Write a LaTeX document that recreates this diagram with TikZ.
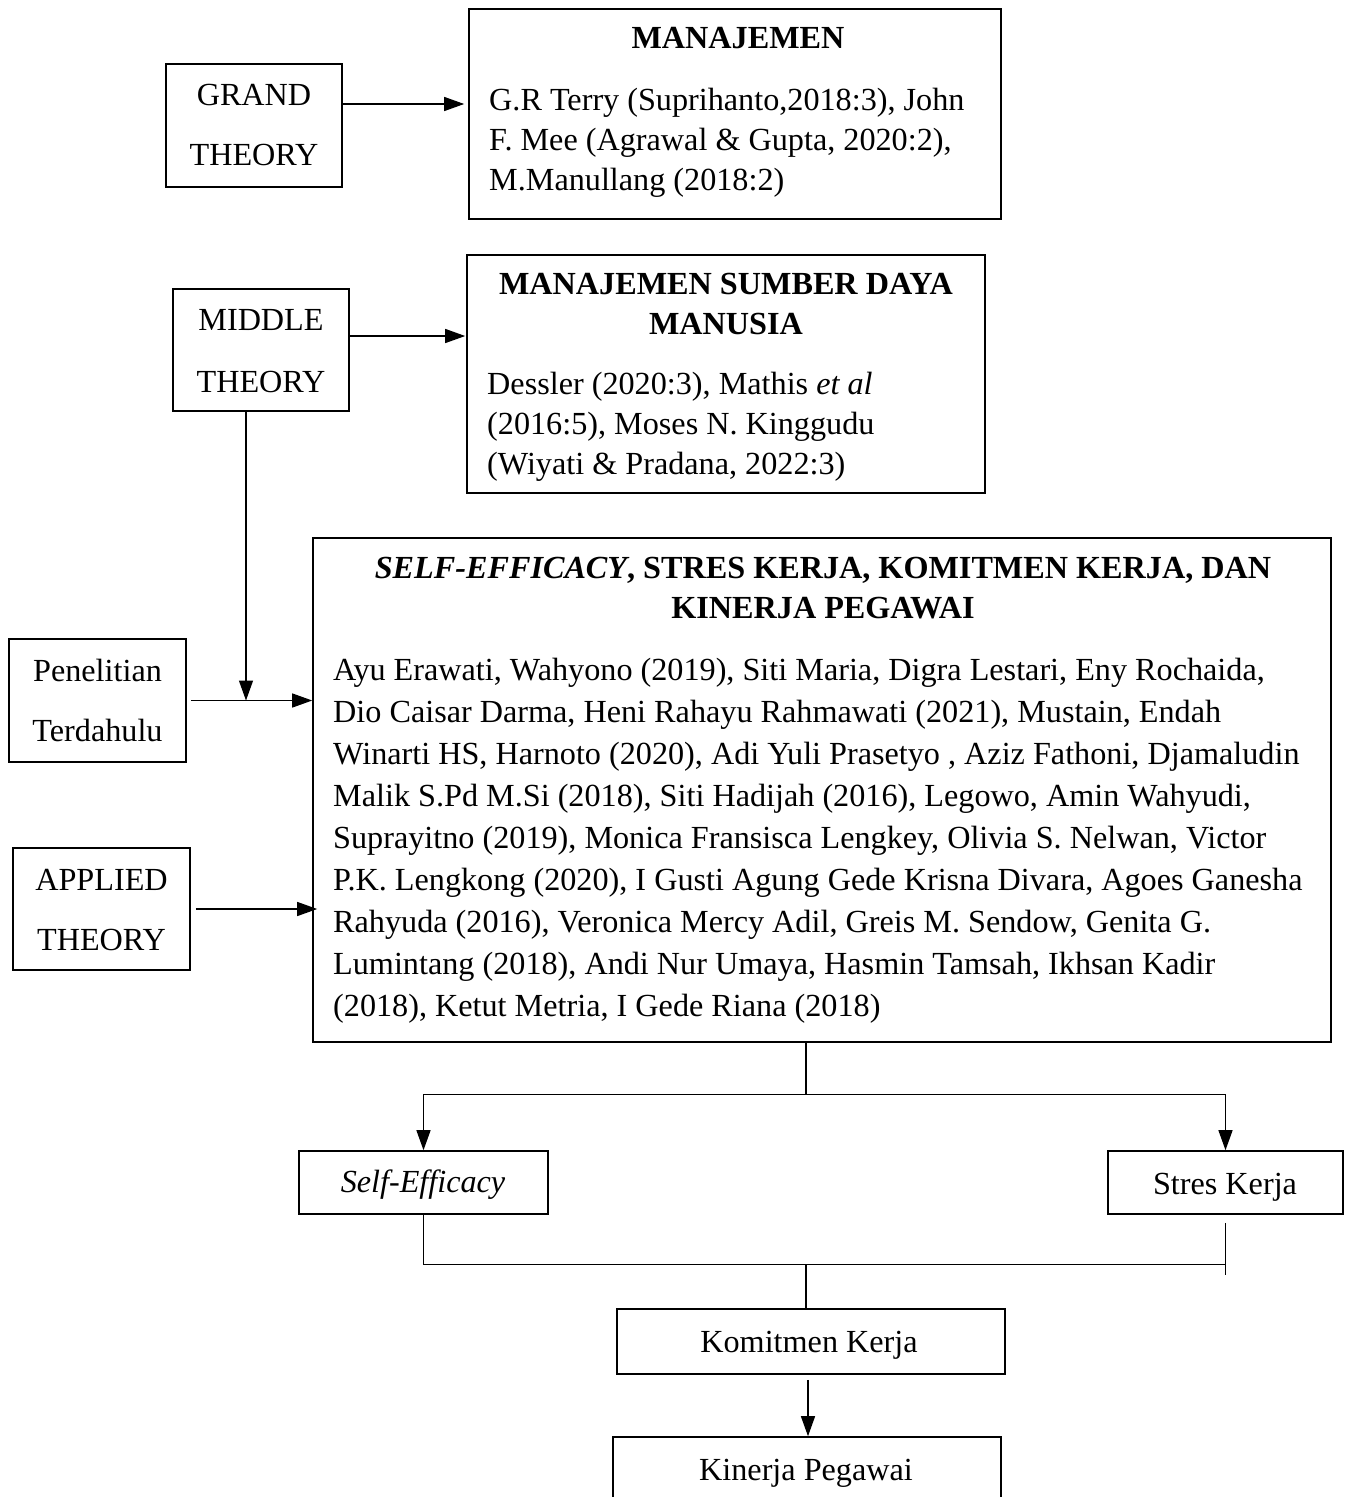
\documentclass[tikz,border=0pt]{standalone}
\usepackage{fontspec}
\setmainfont{Liberation Serif}
\usetikzlibrary{arrows.meta}
\begin{document}
\begin{tikzpicture}[x=1pt,y=-1pt,
  box/.style={draw, line width=1.6pt, inner sep=0pt},
  conn/.style={line width=1.3pt},
  arr/.style={conn, -{Triangle[length=20pt,width=14pt]}},
  txt/.style={inner sep=0pt, font=\fontsize{32.2}{40}\selectfont},
  two/.style={inner sep=0pt, align=center, anchor=base, font=\fontsize{32.2}{60}\selectfont},
  one/.style={inner sep=0pt, anchor=base, font=\fontsize{32.2}{40}\selectfont}]
\useasboundingbox[fill=white] (0,0) rectangle (1348,1497);

% boxes
\node[box, minimum width=176pt, minimum height=123pt] (grand) at (254,125.5) {};
\node[box, minimum width=532pt, minimum height=210pt] (manaj) at (735,114) {};
\node[box, minimum width=176pt, minimum height=122pt] (middle) at (261,350) {};
\node[box, minimum width=518pt, minimum height=238pt] (msdm) at (726,374) {};
\node[box, minimum width=177pt, minimum height=123pt] (pen) at (97.5,700.5) {};
\node[box, minimum width=177pt, minimum height=122pt] (applied) at (101.5,909) {};
\node[box, minimum width=1018pt, minimum height=504pt] (big) at (822,790) {};
\node[box, minimum width=249pt, minimum height=63pt] (self) at (423.5,1182.5) {};
\node[box, minimum width=235pt, minimum height=63pt] (stres) at (1225.5,1182.5) {};
\node[box, minimum width=388pt, minimum height=65pt] (komit) at (811,1341.5) {};
\node[box, minimum width=388pt, minimum height=83pt] (kinerja) at (807,1478.5) {};

% texts (base anchor = baseline of last line)
\node[two] (tgrand) at (254,165) {GRAND\\THEORY};
\node[two, font=\fontsize{32.2}{62}\selectfont] (tmiddle) at (261,392) {MIDDLE\\THEORY};
\node[two] (tpen) at (97.5,741) {Penelitian\\Terdahulu};
\node[two] (tapplied) at (101.5,950) {APPLIED\\THEORY};

\node[txt, anchor=base, font=\fontsize{32.2}{40}\selectfont\bfseries] (hmanaj) at (738,48) {MANAJEMEN};
\node[txt, anchor=base west, align=left] (bmanaj) at (489,190) {G.R Terry (Suprihanto,2018:3), John\\F. Mee (Agrawal \& Gupta, 2020:2),\\M.Manullang (2018:2)};

\node[txt, anchor=base, align=center, font=\fontsize{32.2}{40}\selectfont\bfseries] (hmsdm) at (726,334) {MANAJEMEN SUMBER DAYA\\MANUSIA};
\node[txt, anchor=base west, align=left] (bmsdm) at (487,474) {Dessler (2020:3), Mathis \textit{et al}\\(2016:5), Moses N. Kinggudu\\(Wiyati \& Pradana, 2022:3)};

\node[txt, anchor=base, align=center, font=\fontsize{32.2}{40}\selectfont\bfseries] (hbig) at (823,618) {\textit{SELF-EFFICACY}, STRES KERJA, KOMITMEN KERJA, DAN\\KINERJA PEGAWAI};
\node[txt, anchor=base west, align=left, font=\fontsize{32.2}{42}\selectfont] (bbig) at (333,1016) {Ayu Erawati, Wahyono (2019), Siti Maria, Digra Lestari, Eny Rochaida,\\
Dio Caisar Darma, Heni Rahayu Rahmawati (2021), Mustain, Endah\\
Winarti HS, Harnoto (2020), Adi Yuli Prasetyo , Aziz Fathoni, Djamaludin\\
Malik S.Pd M.Si (2018), Siti Hadijah (2016), Legowo, Amin Wahyudi,\\
Suprayitno (2019), Monica Fransisca Lengkey, Olivia S. Nelwan, Victor\\
P.K. Lengkong (2020), I Gusti Agung Gede Krisna Divara, Agoes Ganesha\\
Rahyuda (2016), Veronica Mercy Adil, Greis M. Sendow, Genita G.\\
Lumintang (2018), Andi Nur Umaya, Hasmin Tamsah, Ikhsan Kadir\\
(2018), Ketut Metria, I Gede Riana (2018)};

\node[one] (tself) at (423,1192) {\textit{Self-Efficacy}};
\node[one] (tstres) at (1225,1194) {Stres Kerja};
\node[one] (tkomit) at (809,1352) {Komitmen Kerja};
\node[one] (tkinerja) at (806,1480) {Kinerja Pegawai};

% connectors
\draw[arr, shorten >=4pt] ([yshift=21.5pt]grand.east) coordinate (g1) -- (g1 -| manaj.west);
\draw[arr, shorten >=1pt] ([yshift=14pt]middle.east) coordinate (m2) -- (m2 -| msdm.west);
\draw[arr] ([xshift=4pt]pen.east) coordinate (p1) -- (p1 -| big.west);
\draw[arr] ([xshift=-15pt]middle.south) coordinate (m1) -- (m1 |- p1);
\draw[arr, shorten >=-5pt] ([xshift=5pt]applied.east) coordinate (a1) -- (a1 -| big.west);

\draw[conn] ([xshift=-16pt]big.south) -- ++(0,52) coordinate (split);
\draw[arr] (split) -| (self.north);
\draw[arr] (split) -| (stres.north);

\draw[conn] (self.south) -- ++(0,50) coordinate (j1) -- (j1 -| stres.south);
\draw[conn] ([yshift=-8pt]stres.south) -- ++(0,52);
\draw[conn] ([xshift=-5pt]komit.north) -- ([xshift=-5pt]komit.north |- j1);
\draw[arr] ([xshift=-3pt,yshift=-5pt]komit.south) coordinate (k1) -- (k1 |- kinerja.north);
\end{tikzpicture}
\end{document}
